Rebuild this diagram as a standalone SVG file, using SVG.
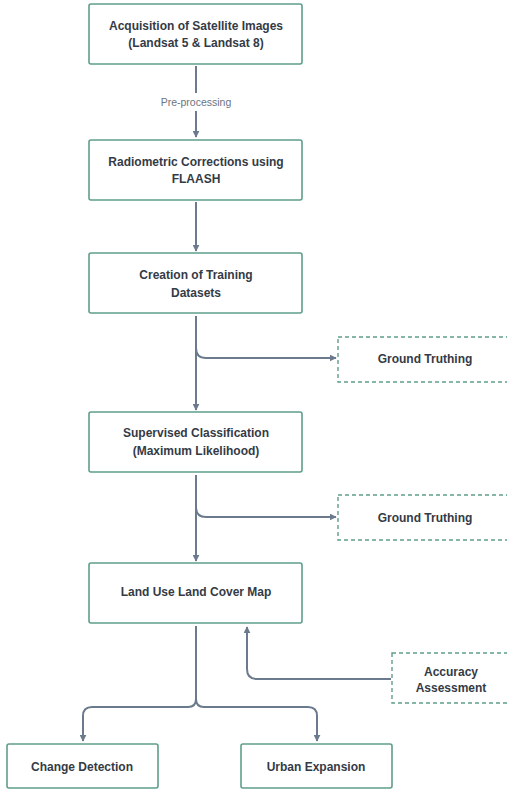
<svg xmlns="http://www.w3.org/2000/svg" width="507" height="790" viewBox="0 0 507 790">
<defs>
<marker id="ah" viewBox="0 0 10 10" refX="9" refY="5" markerWidth="7" markerHeight="7" markerUnits="userSpaceOnUse" orient="auto">
<path d="M0,0 L10,5 L0,10 z" fill="#6b7a8c"/>
</marker>
</defs>
<style>
.box{fill:#fff;stroke:#5e9e8a;stroke-width:1.6}
.dbox{fill:#fff;stroke:#5e9e8a;stroke-width:1.4;stroke-dasharray:4 3}
.t{font-family:"Liberation Sans",Arial,sans-serif;font-weight:bold;font-size:12px;fill:#343b46;text-anchor:middle}
.lbl{font-family:"Liberation Sans",Arial,sans-serif;font-size:10.5px;fill:#6b7480;text-anchor:middle}
.c{fill:none;stroke:#6b7a8c;stroke-width:2;marker-end:url(#ah)}
.cl{fill:none;stroke:#6b7a8c;stroke-width:2}
</style>
<rect width="507" height="790" fill="#fff"/>
<g id="connectors">
<line class="cl" x1="196" y1="66" x2="196" y2="93"/>
<line class="c" x1="196" y1="111" x2="196" y2="137"/>
<text class="lbl" x="196" y="106">Pre-processing</text>
<line class="c" x1="196" y1="202" x2="196" y2="251"/>
<line class="c" x1="196" y1="316" x2="196" y2="410"/>
<path class="c" d="M196,348 Q196,358 206,358 L336,358"/>
<line class="c" x1="196" y1="475" x2="196" y2="561"/>
<path class="c" d="M196,507 Q196,517 206,517 L336,517"/>
<path class="cl" d="M196,626 L196,699 Q196,707 188,707 L92,707 Q83,707 83,716 L83,741" marker-end="url(#ah)"/>
<path class="cl" d="M196,699 Q196,707 204,707 L308,707 Q317,707 317,716 L317,741" marker-end="url(#ah)"/>
<path class="c" d="M391,679 L257,679 Q247,679 247,669 L247,627"/>
</g>
<g id="n1"><rect class="box" x="89" y="4" width="213" height="60" rx="2"/>
<text class="t" x="196" y="30">Acquisition of Satellite Images</text>
<text class="t" x="196" y="47">(Landsat 5 &amp; Landsat 8)</text></g>
<g id="n2"><rect class="box" x="89" y="140" width="213" height="60" rx="2"/>
<text class="t" x="196" y="166">Radiometric Corrections using</text>
<text class="t" x="196" y="183">FLAASH</text></g>
<g id="n3"><rect class="box" x="89" y="253" width="213" height="60" rx="2"/>
<text class="t" x="196" y="279">Creation of Training</text>
<text class="t" x="196" y="297">Datasets</text></g>
<g id="gt1"><rect class="dbox" x="338" y="337" width="175" height="45"/>
<text class="t" x="425" y="363">Ground Truthing</text></g>
<g id="n4"><rect class="box" x="89" y="412" width="213" height="60" rx="2"/>
<text class="t" x="196" y="437">Supervised Classification</text>
<text class="t" x="196" y="455">(Maximum Likelihood)</text></g>
<g id="gt2"><rect class="dbox" x="338" y="495" width="175" height="45"/>
<text class="t" x="425" y="522">Ground Truthing</text></g>
<g id="n5"><rect class="box" x="89" y="563" width="213" height="60" rx="2"/>
<text class="t" x="196" y="596">Land Use Land Cover Map</text></g>
<g id="acc"><rect class="dbox" x="392" y="653" width="120" height="50"/>
<text class="t" x="451" y="676">Accuracy</text>
<text class="t" x="451" y="692">Assessment</text></g>
<g id="n6"><rect class="box" x="7" y="744" width="151" height="44" rx="2"/>
<text class="t" x="82" y="771">Change Detection</text></g>
<g id="n7"><rect class="box" x="241" y="744" width="151" height="44" rx="2"/>
<text class="t" x="316" y="771">Urban Expansion</text></g>
</svg>
